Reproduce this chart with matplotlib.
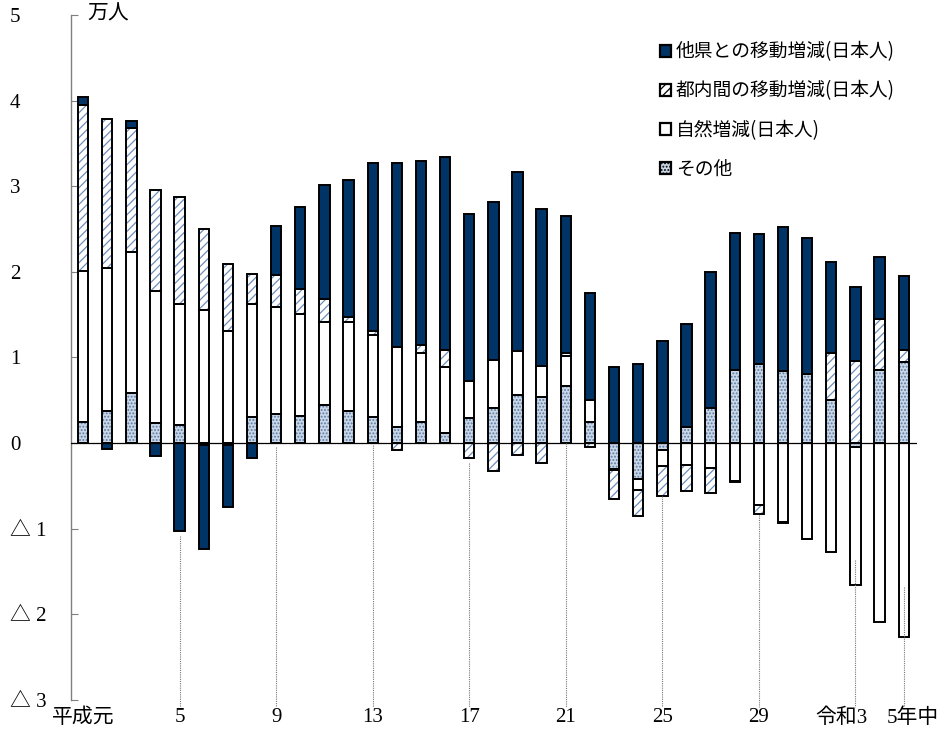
import matplotlib.pyplot as plt
import numpy as np
from matplotlib.patches import Patch
from matplotlib.transforms import ScaledTranslation

plt.rcParams['font.family'] = ['Liberation Serif', 'Noto Sans CJK JP']
plt.rcParams['hatch.linewidth'] = 0.9

# Heisei 1 .. Heisei 31 (Reiwa 1) .. Reiwa 5, unit: 10,000 people
other = [0.245, 0.38, 0.58, 0.24, 0.21, -0.02, -0.02, 0.30, 0.34, 0.315,
         0.44, 0.374, 0.31, 0.187, 0.245, 0.117, 0.296, 0.41, 0.557, 0.537,
         0.662, 0.245, -0.30, -0.417, -0.078, 0.183, 0.41, 0.857, 0.923, 0.837,
         0.806, 0.502, -0.047, 0.853, 0.95]
natural = [1.76, 1.67, 1.65, 1.54, 1.42, 1.55, 1.315, 1.33, 1.25, 1.195,
           0.97, 1.04, 0.955, 0.94, 0.81, 0.77, 0.43, 0.56, 0.515, 0.36,
           0.35, 0.26, -0.01, -0.136, -0.195, -0.26, -0.288, -0.448, -0.728, -0.92,
           -1.118, -1.274, -1.608, -2.09, -2.266]
intra = [1.94, 1.73, 1.45, 1.18, 1.25, 0.95, 0.78, 0.34, 0.37, 0.29,
         0.27, 0.06, 0.05, -0.08, 0.09, 0.195, -0.175, -0.33, -0.144, -0.234,
         0.04, -0.04, -0.34, -0.304, -0.342, -0.305, -0.292, -0.005, -0.105, -0.01,
         -0.005, 0.548, 0.962, 0.597, 0.14]
other_pref = [0.10, -0.07, 0.08, -0.15, -1.03, -1.22, -0.73, -0.17, 0.58, 0.955,
              1.33, 1.60, 1.955, 2.14, 2.15, 2.26, 1.955, 1.85, 2.10, 1.84,
              1.60, 1.245, 0.884, 0.923, 1.188, 1.207, 1.59, 1.60, 1.517, 1.683,
              1.589, 1.07, 0.864, 0.72, 0.857]

labels = ['他県との移動増減(日本人)', '都内間の移動増減(日本人)', '自然増減(日本人)', 'その他']

tick_pos = [0, 4, 8, 12, 16, 20, 24, 28, 32, 34]
tick_labels = ['平成元', '5', '9', '13', '17', '21', '25', '29', '令和3', '5年中']
# where each dotted guide line starts (it runs down to the axis bottom)
guide_top = [0.0, -1.08, -0.05, -0.02, -0.23, 0.0, -0.62, -0.84, -1.37, -1.68]

fig = plt.figure(figsize=(9.43, 7.43), dpi=100)
ax = fig.add_axes([0.0753, 0.0579, 0.8971, 0.9219])

x = np.arange(len(other))
width = 0.43

styles = [
    dict(facecolor='#c9d6e6', hatch='.....', edgecolor='#5b7ca6'),   # その他
    dict(facecolor='white', hatch=None, edgecolor='white'),            # 自然増減
    dict(facecolor='white', hatch='////', edgecolor='#6d8fbb'),        # 都内間
    dict(facecolor='#003366', hatch=None, edgecolor='#003366'),        # 他県
]

pos_base = np.zeros(len(x))
neg_base = np.zeros(len(x))
for vals, st in zip([other, natural, intra, other_pref], styles):
    v = np.array(vals)
    bottom = np.where(v >= 0, pos_base, neg_base)
    ax.bar(x, v, width, bottom=bottom, facecolor=st['facecolor'], hatch=st['hatch'],
           edgecolor=st['edgecolor'], linewidth=0, zorder=2)
    ax.bar(x, v, width, bottom=bottom, fill=False, edgecolor='black', linewidth=1.4, zorder=3)
    pos_base = pos_base + np.where(v >= 0, v, 0)
    neg_base = neg_base + np.where(v < 0, v, 0)

ax.axhline(0, color='black', linewidth=0.9, zorder=4)

# dotted guide lines under the labelled years
for p, top in zip(tick_pos[1:], guide_top[1:]):
    ax.plot([p, p], [top, -3.08], color='#777777', linewidth=0.8, linestyle=(0, (1, 1)),
            zorder=5, clip_on=False)

ax.set_xlim(-0.5, 34.55)
ax.set_ylim(-3, 5)

for s in ['top', 'right', 'bottom']:
    ax.spines[s].set_visible(False)
ax.spines['left'].set_color('#808080')
ax.spines['left'].set_linewidth(1.0)

ax.set_yticks(range(-3, 6))
ax.set_yticklabels(['△ 3', '△ 2', '△ 1', '0', '1', '2', '3', '4', '5'], fontsize=15)
ax.tick_params(axis='y', direction='in', length=5, color='#808080', pad=44)
for t in ax.get_yticklabels():
    t.set_horizontalalignment('left')
ax.set_xticks(tick_pos)
ax.set_xticklabels(tick_labels, fontsize=15)
ax.tick_params(axis='x', length=0, pad=6)
shifts = {'令和3': -14, '5年中': 9}
for t in ax.get_xticklabels():
    dx = shifts.get(t.get_text(), 0)
    if dx:
        t.set_transform(t.get_transform() + ScaledTranslation(dx / 100, 0, fig.dpi_scale_trans))

ax.text(0.019, 1.0, '万人', transform=ax.transAxes, fontsize=15, va='center', ha='left')

handles = [Patch(facecolor=st['facecolor'], hatch=st['hatch'], edgecolor='black', linewidth=1.6)
           for st in styles[::-1]]
ax.legend(handles, labels, loc='upper left', bbox_to_anchor=(0.682, 0.967),
          bbox_transform=fig.transFigure, frameon=False,
          prop={'family': ['Noto Sans CJK JP'], 'size': 13.5},
          handlelength=0.6, handleheight=0.6, handletextpad=0.25, labelspacing=0.97)

fig.savefig('out.png', dpi=100)
